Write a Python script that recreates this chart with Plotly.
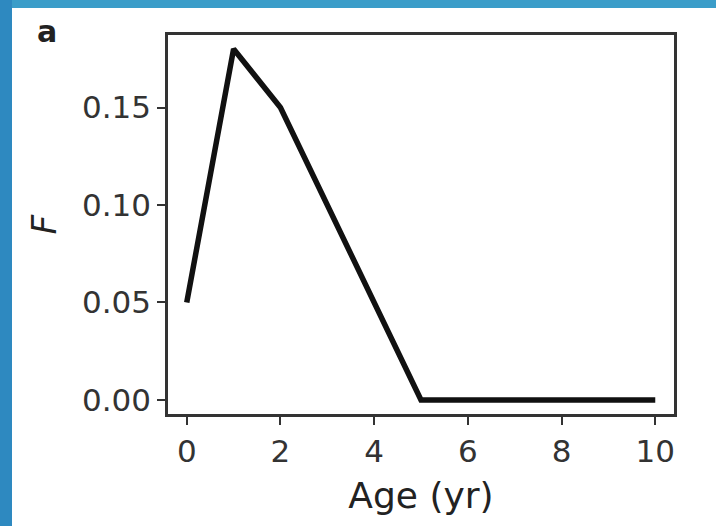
import plotly.graph_objects as go

# Data
age = [0, 1, 2, 5, 6, 7, 8, 9, 10]
F_values = [0.05, 0.18, 0.15, 0.0, 0.0, 0.0, 0.0, 0.0, 0.0]
x_ticks = [0, 2, 4, 6, 8, 10]
y_ticks = [0.00, 0.05, 0.10, 0.15]
y_tick_labels = ["0.00", "0.05", "0.10", "0.15"]

W, H = 716, 526
L, R, T, B = 168, 42, 35, 112
PW, PH = W - L - R, H - T - B

fig = go.Figure()
fig.add_trace(go.Scatter(
    x=age, y=F_values, mode="lines",
    line=dict(color="#111111", width=5.5),
    hoverinfo="skip", showlegend=False,
))

axis_col = "#333333"
tick_font = dict(family="DejaVu Sans", size=31, color="#333333")

fig.update_layout(
    width=W, height=H,
    margin=dict(l=L, r=R, t=T, b=B, pad=0),
    paper_bgcolor="white", plot_bgcolor="white",
    xaxis=dict(
        range=[-0.4, 10.4], tickmode="array", tickvals=x_ticks,
        ticks="outside", ticklen=8, tickwidth=2, tickcolor=axis_col,
        showline=True, linecolor=axis_col, linewidth=2.5, mirror=True,
        showgrid=False, zeroline=False, tickfont=tick_font,
        title=dict(text="Age (yr)", font=dict(family="DejaVu Sans", size=36, color="#222222"), standoff=15),
    ),
    yaxis=dict(
        range=[-0.0072, 0.1872], tickmode="array", tickvals=y_ticks, ticktext=y_tick_labels,
        ticks="outside", ticklen=8, tickwidth=2, tickcolor=axis_col,
        showline=True, linecolor=axis_col, linewidth=2.5, mirror=True,
        showgrid=False, zeroline=False, tickfont=tick_font,
        title=dict(text=""),
    ),
    shapes=[
        dict(type="rect", xref="paper", yref="paper", x0=-L / PW, x1=(W - L) / PW,
             y0=1 + (T - 8) / PH, y1=1 + T / PH,
             fillcolor="#3b9dc9", line=dict(width=0), layer="below"),
        dict(type="rect", xref="paper", yref="paper", x0=-L / PW, x1=-(L - 12) / PW,
             y0=-B / PH, y1=1 + T / PH,
             fillcolor="#2e89c0", line=dict(width=0), layer="below"),
    ],
    annotations=[
        dict(text="<b>a</b>", xref="paper", yref="paper",
             x=(47 - L) / PW, y=1 + (T - 31) / PH,
             xanchor="center", yanchor="middle", showarrow=False,
             font=dict(family="DejaVu Sans", size=30, color="#222222")),
        dict(text="<i>F</i>", xref="paper", yref="paper",
             x=(43 - L) / PW, y=0.5, textangle=-90,
             xanchor="center", yanchor="middle", showarrow=False,
             font=dict(family="DejaVu Sans", size=34, color="#222222")),
    ],
)

fig.write_html("out.html")
